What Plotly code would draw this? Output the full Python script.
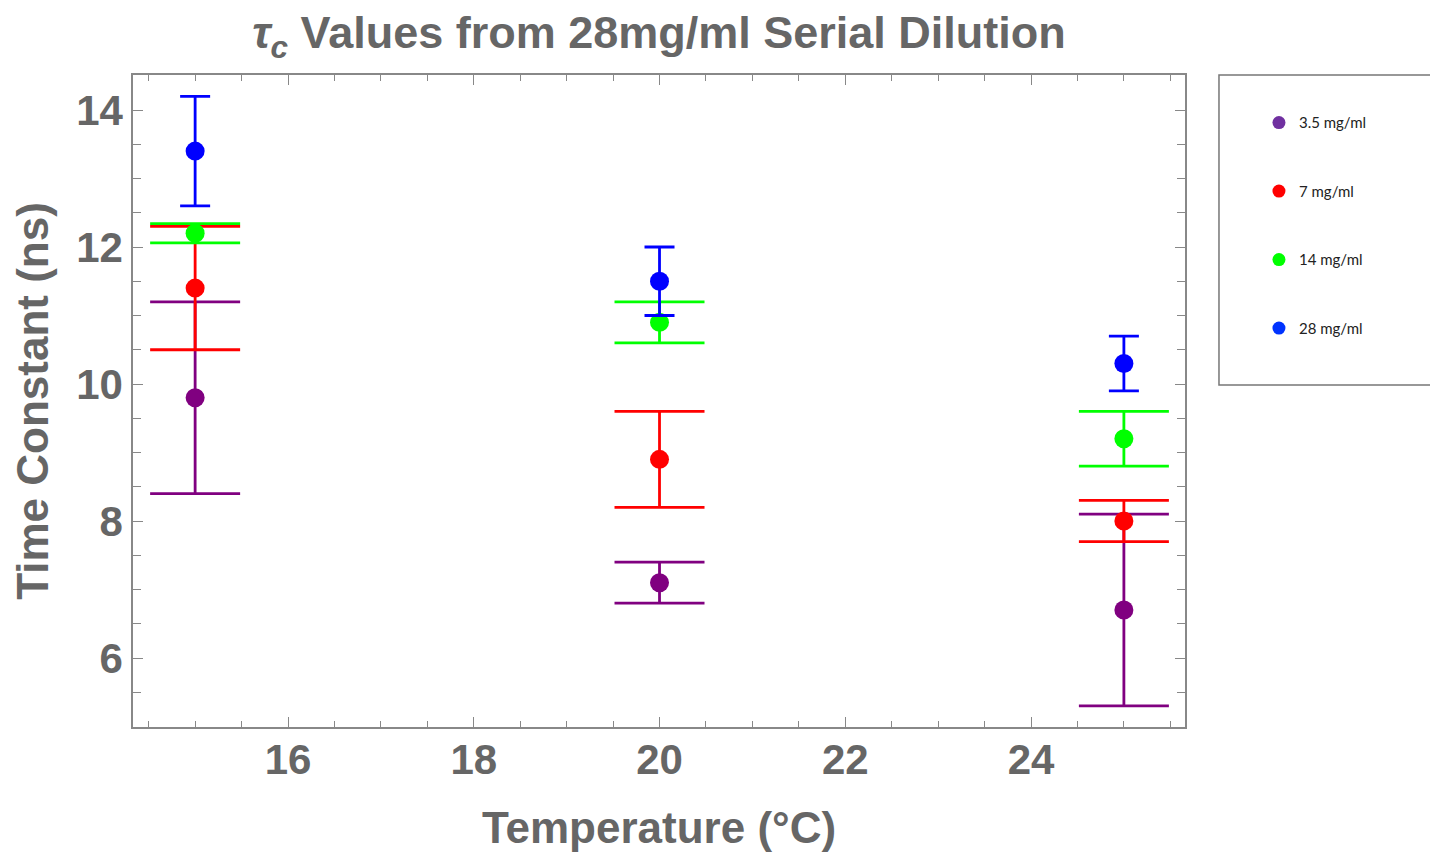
import plotly.graph_objects as go

temps = [15, 20, 25]
series_names = ["3.5 mg/ml", "7 mg/ml", "14 mg/ml", "28 mg/ml"]
tau_35 = [9.8, 7.1, 6.7]
err_35 = [1.4, 0.3, 1.4]
tau_7 = [11.4, 8.9, 8.0]
err_7 = [0.9, 0.7, 0.3]
tau_14 = [12.2, 10.9, 9.2]
err_14 = [0.14, 0.3, 0.4]
tau_28 = [13.4, 11.5, 10.3]
err_28 = [0.8, 0.5, 0.4]
x_ticks = [16, 18, 20, 22, 24]
y_ticks = [6, 8, 10, 12, 14]

plot_colors = ["#800080", "#FF0000", "#00FF00", "#0000FF"]
legend_colors = ["#7030A0", "#FF0000", "#00FF00", "#0033FF"]
cap_widths = [45, 45, 45, 15]
values = [tau_35, tau_7, tau_14, tau_28]
errors = [err_35, err_7, err_14, err_28]

GRAY = "#666666"
FONT = "Liberation Sans"

fig = go.Figure()
for name, vals, errs, col, cw in zip(series_names, values, errors, plot_colors, cap_widths):
    fig.add_trace(go.Scatter(
        x=temps, y=vals, mode="markers", name=name, showlegend=False,
        marker=dict(color=col, size=19, line=dict(width=0)),
        error_y=dict(type="data", array=errs, visible=True, color=col,
                     thickness=2.8, width=cw),
    ))

for i, (name, col) in enumerate(zip(series_names, legend_colors)):
    fig.add_trace(go.Scatter(
        x=[None], y=[None], mode="markers", name=name, legendgroup=f"g{i}",
        marker=dict(color=col, size=13),
    ))

axis_common = dict(
    showline=True, linecolor="#888888", linewidth=1.5, mirror="ticks",
    ticks="inside", ticklen=10, tickwidth=1.2, tickcolor="#888888",
    showgrid=False, zeroline=False, automargin=False,
    tickfont=dict(family=FONT, size=42, color=GRAY, weight="bold"),
)

fig.update_xaxes(
    range=[14.331, 25.658], tickvals=x_ticks, ticklabelstandoff=-5,
    minor=dict(dtick=0.5, tick0=0, ticks="inside", ticklen=6, tickcolor="#888888", tickwidth=1.2, showgrid=False),
    title=dict(text="Temperature (°C)", font=dict(family=FONT, size=44, color=GRAY, weight="bold"), standoff=30),
    **axis_common,
)
fig.update_yaxes(
    range=[4.993, 14.511], tickvals=y_ticks,
    minor=dict(dtick=0.5, tick0=0, ticks="inside", ticklen=8, tickcolor="#888888", tickwidth=1.2, showgrid=False),
    title=dict(text="Time Constant (ns)", font=dict(family=FONT, size=44, color=GRAY, weight="bold"), standoff=14),
    **axis_common,
)

fig.add_shape(type="rect", xref="paper", yref="paper",
              x0=1.0323, x1=1.26, y0=0.5245, y1=1.0,
              line=dict(color="#777777", width=1.5), fillcolor="rgba(0,0,0,0)")

fig.update_layout(
    width=1430, height=853,
    margin=dict(l=133, r=245, t=75, b=126, autoexpand=False),
    paper_bgcolor="white", plot_bgcolor="white",
    title=dict(text="<i>τ</i><sub><i>c</i></sub> Values from 28mg/ml Serial Dilution",
               x=0.5, xref="paper", xanchor="center",
               y=0.962, yref="container", yanchor="middle",
               font=dict(family=FONT, size=45, color=GRAY, weight="bold")),
    legend=dict(x=1.0703, xanchor="left", y=0.952, yanchor="top",
                bgcolor="rgba(0,0,0,0)", borderwidth=0,
                traceorder="grouped", tracegroupgap=46,
                font=dict(family="Lato", size=15, color="#222222")),
    showlegend=True,
)

fig.write_html("out.html")
